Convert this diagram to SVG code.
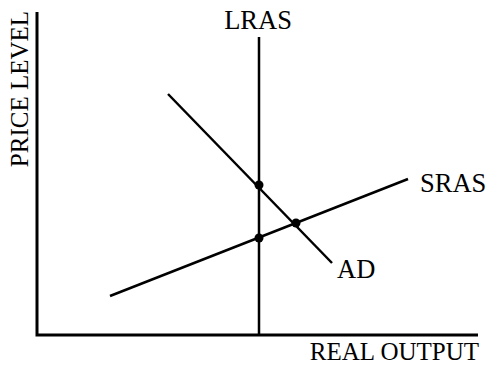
<svg xmlns="http://www.w3.org/2000/svg" width="490" height="365" viewBox="0 0 490 365">
<style>
text{font-family:"Liberation Serif","Times New Roman",serif;font-size:25px;fill:#000}
.lbl{font-size:26.5px}
.ln{stroke:#000;stroke-width:2.5;fill:none}
.ax{stroke:#000;stroke-width:3;fill:none}
.dot{fill:#000}
</style>
<rect width="490" height="365" fill="#fff"/>
<g id="axes">
<polyline class="ax" points="37,12 37,335 478,335"/>
<text transform="translate(28,89) rotate(-90)" text-anchor="middle">PRICE LEVEL</text>
<text x="479" y="360" text-anchor="end">REAL OUTPUT</text>
</g>
<g id="connectors">
<line id="lras-line" class="ln" x1="259" y1="37" x2="259" y2="335"/>
<line id="ad-line" class="ln" x1="168" y1="94" x2="332" y2="263"/>
<line id="sras-line" class="ln" x1="110" y1="296" x2="408" y2="179"/>
</g>
<g id="lras"><text class="lbl" x="258" y="29" text-anchor="middle">LRAS</text></g>
<g id="sras"><text class="lbl" x="420" y="192">SRAS</text></g>
<g id="ad"><text class="lbl" x="337" y="278">AD</text></g>
<g id="points">
<circle class="dot" cx="259" cy="185" r="4.5"/>
<circle class="dot" cx="296" cy="223" r="4.5"/>
<circle class="dot" cx="259" cy="238" r="4.5"/>
</g>
</svg>
